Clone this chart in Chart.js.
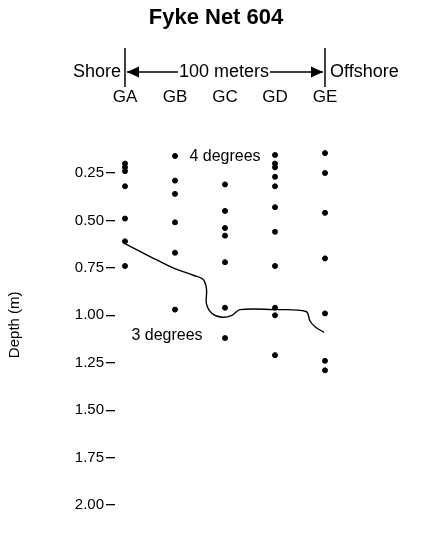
<!DOCTYPE html>
<html>
<head>
<meta charset="utf-8">
<script src="https://cdn.jsdelivr.net/npm/chart.js@4.4.1/dist/chart.umd.min.js"></script>
<style>
    html, body { margin: 0; padding: 0; background: #fff; }
</style>
</head>
<body>
<canvas id="GraficoFyke" width="432" height="547"></canvas>
<script>
// Estações (colunas), da margem para o largo
const estacoes = ['GA', 'GB', 'GC', 'GD', 'GE'];
// Marcas do eixo de profundidade (m)
const marcasProfundidade = [0.25, 0.50, 0.75, 1.00, 1.25, 1.50, 1.75, 2.00];

// Profundidades amostradas em cada estação (m)
const profGA = [0.20, 0.22, 0.24, 0.32, 0.49, 0.61, 0.74];
const profGB = [0.16, 0.29, 0.36, 0.51, 0.67, 0.97];
const profGC = [0.31, 0.45, 0.54, 0.58, 0.72, 0.96, 1.12];
const profGD = [0.155, 0.20, 0.22, 0.27, 0.32, 0.43, 0.56, 0.74, 0.96, 1.00, 1.21];
const profGE = [0.145, 0.25, 0.46, 0.70, 0.99, 1.24, 1.29];

// Isoterma entre 4 e 3 graus (posição em estações, profundidade em m)
const isotermaX = [-0.02, 0.50, 0.96, 1.38, 1.56, 1.63, 1.63, 1.74, 1.94, 2.14, 2.30, 2.96, 3.62, 3.70, 3.80, 3.98];
const isotermaY = [0.62, 0.69, 0.75, 0.79, 0.81, 0.86, 0.94, 0.99, 1.01, 1.00, 0.97, 0.97, 0.98, 1.03, 1.06, 1.09];

const FONTE = "'Liberation Sans', Arial, Helvetica, sans-serif";

// Monta os pontos a partir das listas
const profPorEstacao = [profGA, profGB, profGC, profGD, profGE];
const pontos = [];
profPorEstacao.forEach((lista, i) => {
    lista.forEach(p => pontos.push({ x: i, y: p }));
});
const linhaIsoterma = isotermaX.map((x, i) => ({ x: x, y: isotermaY[i] }));

// Cabeçalho, rótulos das estações e anotações
const pluginCabecalho = {
    id: 'cabecalho',
    afterDraw(chart) {
        const ctx = chart.ctx;
        const xs = chart.scales.x;
        const ys = chart.scales.y;
        const xA = xs.getPixelForValue(0);
        const xE = xs.getPixelForValue(4);

        ctx.save();
        ctx.fillStyle = '#000';
        ctx.strokeStyle = '#000';

        // Título
        ctx.font = 'bold 22px ' + FONTE;
        ctx.textAlign = 'center';
        ctx.textBaseline = 'middle';
        ctx.fillText('Fyke Net 604', 216, 18);

        // Barras verticais
        ctx.lineWidth = 1.5;
        [xA, xE].forEach(x => {
            ctx.beginPath();
            ctx.moveTo(x, 48);
            ctx.lineTo(x, 87);
            ctx.stroke();
        });

        // Textos do cabeçalho
        ctx.font = '18px ' + FONTE;
        const yCab = 72;
        ctx.textAlign = 'right';
        ctx.fillText('Shore', xA - 4, yCab);
        ctx.textAlign = 'left';
        ctx.fillText('Offshore', xE + 5, yCab);
        ctx.textAlign = 'center';
        const meio = (xA + xE) / 2 - 1;
        ctx.fillText('100 meters', meio, yCab);
        const larg = ctx.measureText('100 meters').width;

        // Setas
        ctx.lineWidth = 1.3;
        ctx.beginPath();
        ctx.moveTo(xA + 2, yCab);
        ctx.lineTo(meio - larg / 2 - 1, yCab);
        ctx.moveTo(meio + larg / 2 + 1, yCab);
        ctx.lineTo(xE - 2, yCab);
        ctx.stroke();
        ctx.beginPath();
        ctx.moveTo(xA + 2, yCab);
        ctx.lineTo(xA + 14, yCab - 5.5);
        ctx.lineTo(xA + 14, yCab + 5.5);
        ctx.closePath();
        ctx.fill();
        ctx.beginPath();
        ctx.moveTo(xE - 2, yCab);
        ctx.lineTo(xE - 14, yCab - 5.5);
        ctx.lineTo(xE - 14, yCab + 5.5);
        ctx.closePath();
        ctx.fill();

        // Rótulos das estações
        ctx.font = '17px ' + FONTE;
        estacoes.forEach((e, i) => {
            ctx.fillText(e, xs.getPixelForValue(i), 97);
        });

        // Anotações de temperatura
        ctx.font = '16px ' + FONTE;
        ctx.fillText('4 degrees', xs.getPixelForValue(2.0), ys.getPixelForValue(0.165));
        ctx.fillText('3 degrees', xs.getPixelForValue(0.84), ys.getPixelForValue(1.105));
        ctx.restore();
    }
};

const ctx = document.getElementById('GraficoFyke').getContext('2d');
new Chart(ctx, {
    type: 'scatter',
    data: {
        datasets: [
            {
                label: 'Amostras',
                data: pontos,
                backgroundColor: '#000',
                borderColor: '#000',
                pointRadius: 2.5,
                pointHoverRadius: 2.5,
            },
            {
                label: 'Isoterma',
                data: linhaIsoterma,
                showLine: true,
                borderColor: '#000',
                borderWidth: 1.4,
                pointRadius: 0,
                tension: 0.35,
                fill: false,
            },
        ],
    },
    options: {
        responsive: false,
        animation: false,
        events: [],
        layout: { padding: { top: 125.6, bottom: 23, left: 0, right: 87 } },
        plugins: {
            legend: { display: false },
            tooltip: { enabled: false },
            title: { display: false },
        },
        scales: {
            x: {
                type: 'linear',
                display: false,
                min: -0.2,
                max: 4.4,
            },
            y: {
                type: 'linear',
                reverse: true,
                min: 0,
                max: 2.1,
                afterFit: scale => { scale.width = 115; },
                afterBuildTicks: scale => {
                    scale.ticks = marcasProfundidade.map(v => ({ value: v }));
                },
                border: { display: false },
                grid: {
                    display: true,
                    drawOnChartArea: false,
                    drawTicks: true,
                    tickLength: 9,
                    color: '#000',
                    lineWidth: 1.3,
                },
                ticks: {
                    color: '#000',
                    padding: 2,
                    font: { family: FONTE, size: 15 },
                    callback: v => Number(v).toFixed(2),
                },
                title: {
                    display: true,
                    text: 'Depth (m)',
                    color: '#000',
                    font: { family: FONTE, size: 15 },
                    padding: { top: 6 },
                },
            },
        },
    },
    plugins: [pluginCabecalho],
});
</script>
</body>
</html>
